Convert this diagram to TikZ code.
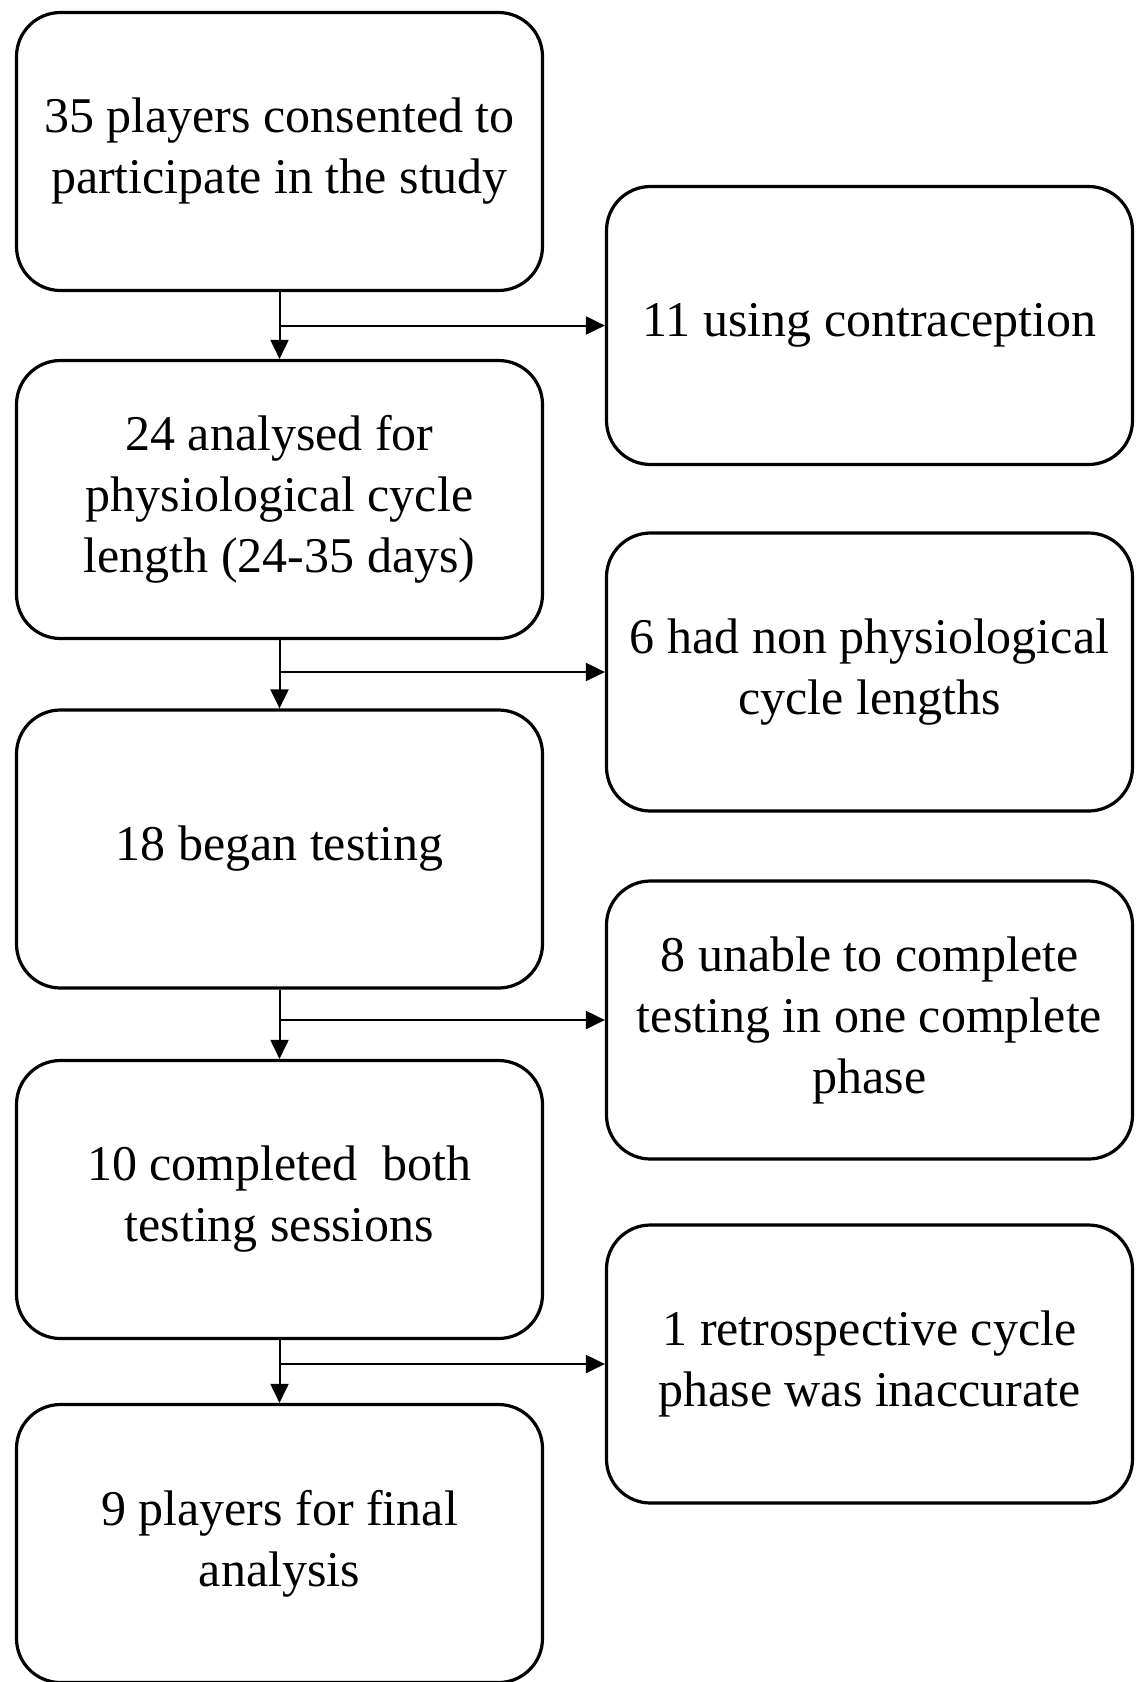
\documentclass[tikz,border=0pt]{standalone}
\usepackage{fontspec}
\setmainfont{Liberation Serif}
\usepackage{tikz}
\usetikzlibrary{arrows.meta}

\begin{document}
\begin{tikzpicture}[x = 0.5pt, y = -0.5pt,
		box/.style = {draw, line width = 1.6pt, rounded corners = 22pt,
			minimum width = 263pt, minimum height = 139pt, align = center,
			font = \fontsize{25}{30.5}\selectfont},
		link/.style = {line width = 1pt, -{Triangle[length = 9.5pt, width = 9pt]}}]
		\useasboundingbox (0, 0) rectangle (1139, 1682);
		% left column
		\node[box] (L1) at (279.5, 151.5) {35 players consented to\\participate in the study};
		\node[box] (L2) at (279.5, 499.5) {24 analysed for\\physiological cycle\\length (24-35 days)};
		\node[box] (L3) at (279.5, 849) {18 began testing};
		\node[box] (L4) at (279.5, 1199.5) {10 completed\ \ both\\testing sessions};
		\node[box] (L5) at (279.5, 1543.5) {9 players for final\\analysis};
		% right column
		\node[box] (R1) at (869.5, 325.5) {11 using contraception};
		\node[box] (R2) at (869.5, 672) {6 had non physiological\\cycle lengths};
		\node[box] (R3) at (869.5, 1020) {8 unable to complete\\testing in one complete\\phase};
		\node[box] (R4) at (869.5, 1364) {1 retrospective cycle\\phase was inaccurate};
		% connectors
		\foreach \a/\b/\r [count = \i] in {L1/L2/R1, L2/L3/R2, L3/L4/R3, L4/L5/R4} {
			\draw[link] (\a.south) -- (\b.north);
			\coordinate (J\i) at (\a.south |- \r.west);
			\draw[link] (J\i) -- (\r.west);
		}
	\end{tikzpicture}
\end{document}
